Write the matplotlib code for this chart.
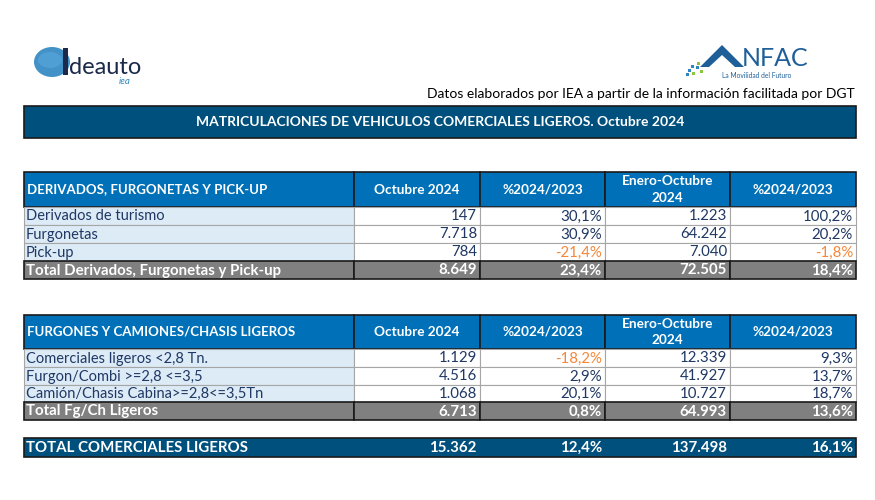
"""
Matriculaciones de vehiculos comerciales ligeros, octubre 2024 - tabla estilo Excel.
"""
import matplotlib.pyplot as plt
from matplotlib.patches import Rectangle, Ellipse, Polygon

# --- datos ---
title = "MATRICULACIONES DE VEHICULOS COMERCIALES LIGEROS. Octubre 2024"
source = "Datos elaborados por IEA a partir de la información facilitada por DGT"
col_headers = ["Octubre 2024", "%2024/2023", "Enero-Octubre\n2024", "%2024/2023"]

sec1_title = "DERIVADOS, FURGONETAS Y PICK-UP"
sec1_rows = ["Derivados de turismo", "Furgonetas", "Pick-up"]
sec1_oct = [147, 7718, 784]
sec1_oct_pct = [30.1, 30.9, -21.4]
sec1_ytd = [1223, 64242, 7040]
sec1_ytd_pct = [100.2, 20.2, -1.8]
sec1_total = ["Total Derivados, Furgonetas y Pick-up", 8649, 23.4, 72505, 18.4]

sec2_title = "FURGONES Y CAMIONES/CHASIS LIGEROS"
sec2_rows = ["Comerciales ligeros <2,8 Tn.", "Furgon/Combi >=2,8 <=3,5",
             "Camión/Chasis Cabina>=2,8<=3,5Tn"]
sec2_oct = [1129, 4516, 1068]
sec2_oct_pct = [-18.2, 2.9, 20.1]
sec2_ytd = [12339, 41927, 10727]
sec2_ytd_pct = [9.3, 13.7, 18.7]
sec2_total = ["Total Fg/Ch Ligeros", 6713, 0.8, 64993, 13.6]

grand_total = ["TOTAL COMERCIALES LIGEROS", 15362, 12.4, 137498, 16.1]

# --- estilo ---
DARK = "#00507D"
HEAD = "#0070B8"
LIGHT = "#DDEBF7"
GREY = "#808080"
TXT = "#1F3864"
NEG = "#F4873A"
FONT = "Lato"

col_x = [24, 354, 480, 605, 730, 856]


def fmt_int(v):
    return f"{v:,}".replace(",", ".")


def fmt_pct(v):
    return f"{v:.1f}%".replace(".", ",")


fig = plt.figure(figsize=(8.75, 5), dpi=100)
ax = fig.add_axes([0, 0, 1, 1])
ax.set_xlim(0, 875)
ax.set_ylim(500, 0)
ax.axis("off")


def cell(x0, x1, y0, y1, fc, ec="#A6A6A6", lw=0.8):
    ax.add_patch(Rectangle((x0, y0), x1 - x0, y1 - y0, facecolor=fc,
                           edgecolor=ec, linewidth=lw))


def draw_total_text(y0, y1, total):
    yc = (y0 + y1) / 2 + 0.5
    ax.text(col_x[0] + 2, yc, total[0], color="white", fontsize=10.8, fontweight="bold",
            family=FONT, va="center", ha="left")
    vals = [fmt_int(total[1]), fmt_pct(total[2]), fmt_int(total[3]), fmt_pct(total[4])]
    for i, v in enumerate(vals):
        ax.text(col_x[i + 2] - 3, yc, v, color="white", fontsize=10.8, fontweight="bold",
                family=FONT, va="center", ha="right")


def draw_section(y_top, y_head, row_edges, name, rows, oct_, oct_pct, ytd, ytd_pct, total):
    # cabecera
    for i in range(5):
        cell(col_x[i], col_x[i + 1], y_top, y_head, HEAD, ec="#1A1A1A", lw=1.2)
    ymid = (y_top + y_head) / 2
    ax.text(col_x[0] + 3, ymid, name, color="white", fontsize=9.5, fontweight="bold",
            family=FONT, va="center", ha="left")
    for i, h in enumerate(col_headers):
        ax.text((col_x[i + 1] + col_x[i + 2]) / 2, ymid, h, color="white", fontsize=9.8,
                fontweight="bold", family=FONT, va="center", ha="center", linespacing=1.5)
    # filas
    for r, lab in enumerate(rows):
        y0, y1 = row_edges[r], row_edges[r + 1]
        cell(col_x[0], col_x[1], y0, y1, LIGHT)
        for i in range(1, 5):
            cell(col_x[i], col_x[i + 1], y0, y1, "white")
        yc = (y0 + y1) / 2 + 0.5
        ax.text(col_x[0] + 2, yc, lab, color=TXT, fontsize=10.5, family=FONT,
                va="center", ha="left")
        vals = [fmt_int(oct_[r]), fmt_pct(oct_pct[r]), fmt_int(ytd[r]), fmt_pct(ytd_pct[r])]
        negs = [False, oct_pct[r] < 0, False, ytd_pct[r] < 0]
        for i, (v, n) in enumerate(zip(vals, negs)):
            ax.text(col_x[i + 2] - 3, yc, v, color=NEG if n else TXT, fontsize=10.8,
                    family=FONT, va="center", ha="right")
    # total
    y0, y1 = row_edges[-2], row_edges[-1]
    for i in range(5):
        cell(col_x[i], col_x[i + 1], y0, y1, GREY, ec="#1A1A1A", lw=1.2)
    draw_total_text(y0, y1, total)


# logos (aproximados)
ax.add_patch(Ellipse((52, 62), 36, 30, facecolor="#2E86C1", edgecolor="none", alpha=0.9))
ax.add_patch(Ellipse((50, 60), 24, 16, facecolor="#5DADE2", edgecolor="none", alpha=0.5))
ax.add_patch(Rectangle((63, 48), 4.5, 27, facecolor="#1B2A4A", edgecolor="none"))
ax.text(69, 74, "deauto", color="#1B2A4A", fontsize=17, family=FONT, va="baseline")
ax.text(119, 84, "iea", color="#2E86C1", fontsize=7, family=FONT, style="italic",
        va="baseline")

ax.add_patch(Polygon([[700, 67], [722, 45], [744, 67], [735, 67], [722, 55], [709, 67]],
                     closed=True, facecolor="#1F5F99", edgecolor="none"))
for k, (px, py) in enumerate([(688, 69), (692, 72), (696, 66), (700, 70), (691, 65),
                              (697, 62), (686, 73)]):
    ax.add_patch(Rectangle((px, py), 2.5, 2.5, facecolor="#8CC63F" if k % 2 else "#2E86C1",
                           edgecolor="none"))
ax.text(742, 66, "NFAC", color="#1F5F99", fontsize=18, family=FONT, va="baseline")
ax.text(757, 72, "La Movilidad del Futuro", color="#1F5F99", fontsize=4.8, family=FONT,
        va="top", ha="center")

ax.text(855, 94, source, color="black", fontsize=10, family=FONT, ha="right", va="center")

# titulo
ax.add_patch(Rectangle((24, 106), 832, 32, facecolor=DARK, edgecolor="#1A1A1A", linewidth=1.2))
ax.text(440, 122, title, color="white", fontsize=10, fontweight="bold", family=FONT,
        ha="center", va="center")

draw_section(172, 207, [207, 225, 243, 261, 279], sec1_title, sec1_rows,
             sec1_oct, sec1_oct_pct, sec1_ytd, sec1_ytd_pct, sec1_total)
draw_section(315, 349, [349, 367, 385, 402, 420], sec2_title, sec2_rows,
             sec2_oct, sec2_oct_pct, sec2_ytd, sec2_ytd_pct, sec2_total)

ax.add_patch(Rectangle((24, 438), 832, 19, facecolor=DARK, edgecolor="#1A1A1A", linewidth=1.2))
draw_total_text(438, 457, grand_total)

fig.savefig("out.png", dpi=100)
plt.close(fig)
